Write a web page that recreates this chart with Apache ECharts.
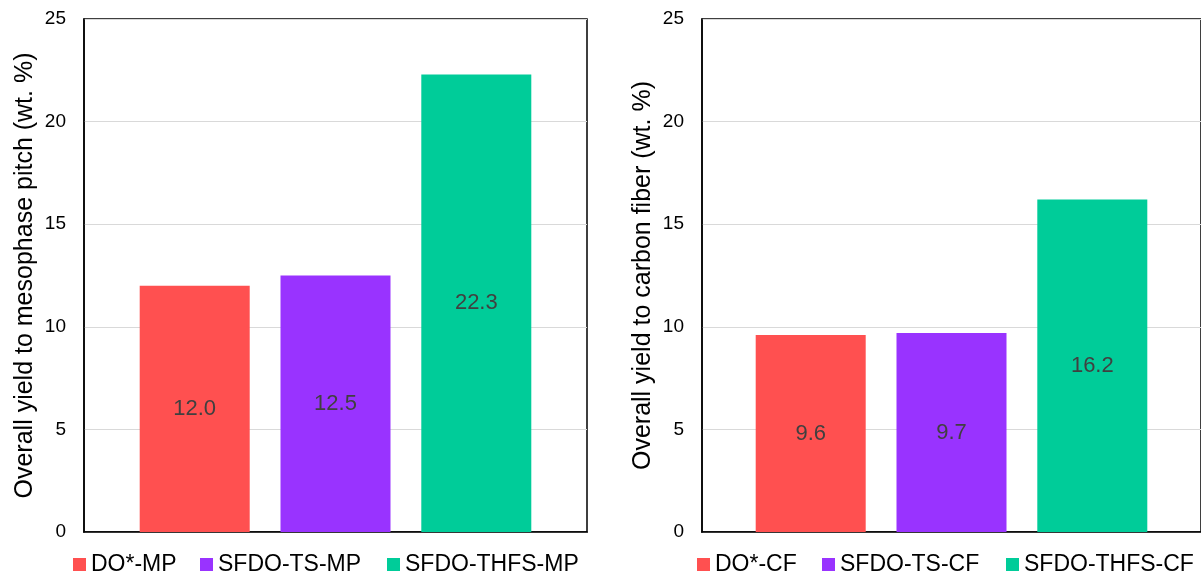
<!DOCTYPE html>
<html><head><meta charset="utf-8">
<script src="https://cdn.jsdelivr.net/npm/echarts@6/dist/echarts.min.js"></script>
<style>html,body{margin:0;padding:0;background:#fff}#c{width:1201px;height:571px}</style>
</head><body><div id="c"></div>
<script>
const leftNames = ['DO*-MP', 'SFDO-TS-MP', 'SFDO-THFS-MP'];
const leftValues = [12.0, 12.5, 22.3];
const rightNames = ['DO*-CF', 'SFDO-TS-CF', 'SFDO-THFS-CF'];
const rightValues = [9.6, 9.7, 16.2];
const colors = ['#FF5050', '#9933FF', '#00CC99'];
const leftTitle = 'Overall yield to mesophase pitch (wt. %)';
const rightTitle = 'Overall yield to carbon fiber (wt. %)';
const yTicks = [0, 5, 10, 15, 20, 25];

const font = 'Liberation Sans, Arial, sans-serif';
const chart = echarts.init(document.getElementById('c'));

function yAxis(idx, name) {
  return {
    gridIndex: idx, type: 'value', min: yTicks[0], max: yTicks[yTicks.length - 1], interval: 5,
    name: name, nameLocation: 'middle', nameGap: 46, nameRotate: 90,
    nameTextStyle: { color: '#000', fontSize: 25, fontFamily: font },
    axisLine: { show: true, lineStyle: { color: '#000', width: 1.5 } },
    axisTick: { show: false },
    axisLabel: { color: '#000', fontSize: 19, fontFamily: font, margin: 18 },
    splitLine: { show: true, lineStyle: { color: '#d9d9d9', width: 1 } }
  };
}
function xAxis(idx) {
  return {
    gridIndex: idx, type: 'category', data: [''],
    axisLine: { show: true, lineStyle: { color: '#000', width: 1.5 } },
    axisTick: { show: false }, axisLabel: { show: false }
  };
}
function series(names, values, idx) {
  return names.map((n, i) => ({
    name: n, type: 'bar', xAxisIndex: idx, yAxisIndex: idx,
    data: [values[i]], barWidth: 110, barGap: '28%',
    itemStyle: { color: colors[i] },
    label: { show: true, position: 'inside', color: '#404040', fontSize: 22, fontFamily: font,
             formatter: p => p.value.toFixed(1) }
  }));
}
const legendX = [[73, 200, 387], [697, 822, 1006]];
function legends(names, xs) {
  return names.map((n, i) => ({
    data: [n], left: xs[i] - 5, top: 548, orient: 'horizontal',
    itemWidth: 13, itemHeight: 13, icon: 'rect',
    textStyle: { color: '#000', fontSize: 23, fontFamily: font },
    selectedMode: false
  }));
}

chart.setOption({
  animation: false,
  grid: [
    { left: 84, top: 19, width: 503, height: 513, show: true, borderColor: '#000', borderWidth: 1.5, containLabel: false },
    { left: 702, top: 19, width: 503, height: 513, show: true, borderColor: '#000', borderWidth: 1.5, containLabel: false }
  ],
  xAxis: [xAxis(0), xAxis(1)],
  yAxis: [yAxis(0, leftTitle), yAxis(1, rightTitle)],
  legend: [...legends(leftNames, legendX[0]), ...legends(rightNames, legendX[1])],
  series: [...series(leftNames, leftValues, 0), ...series(rightNames, rightValues, 1)]
});
</script></body></html>
